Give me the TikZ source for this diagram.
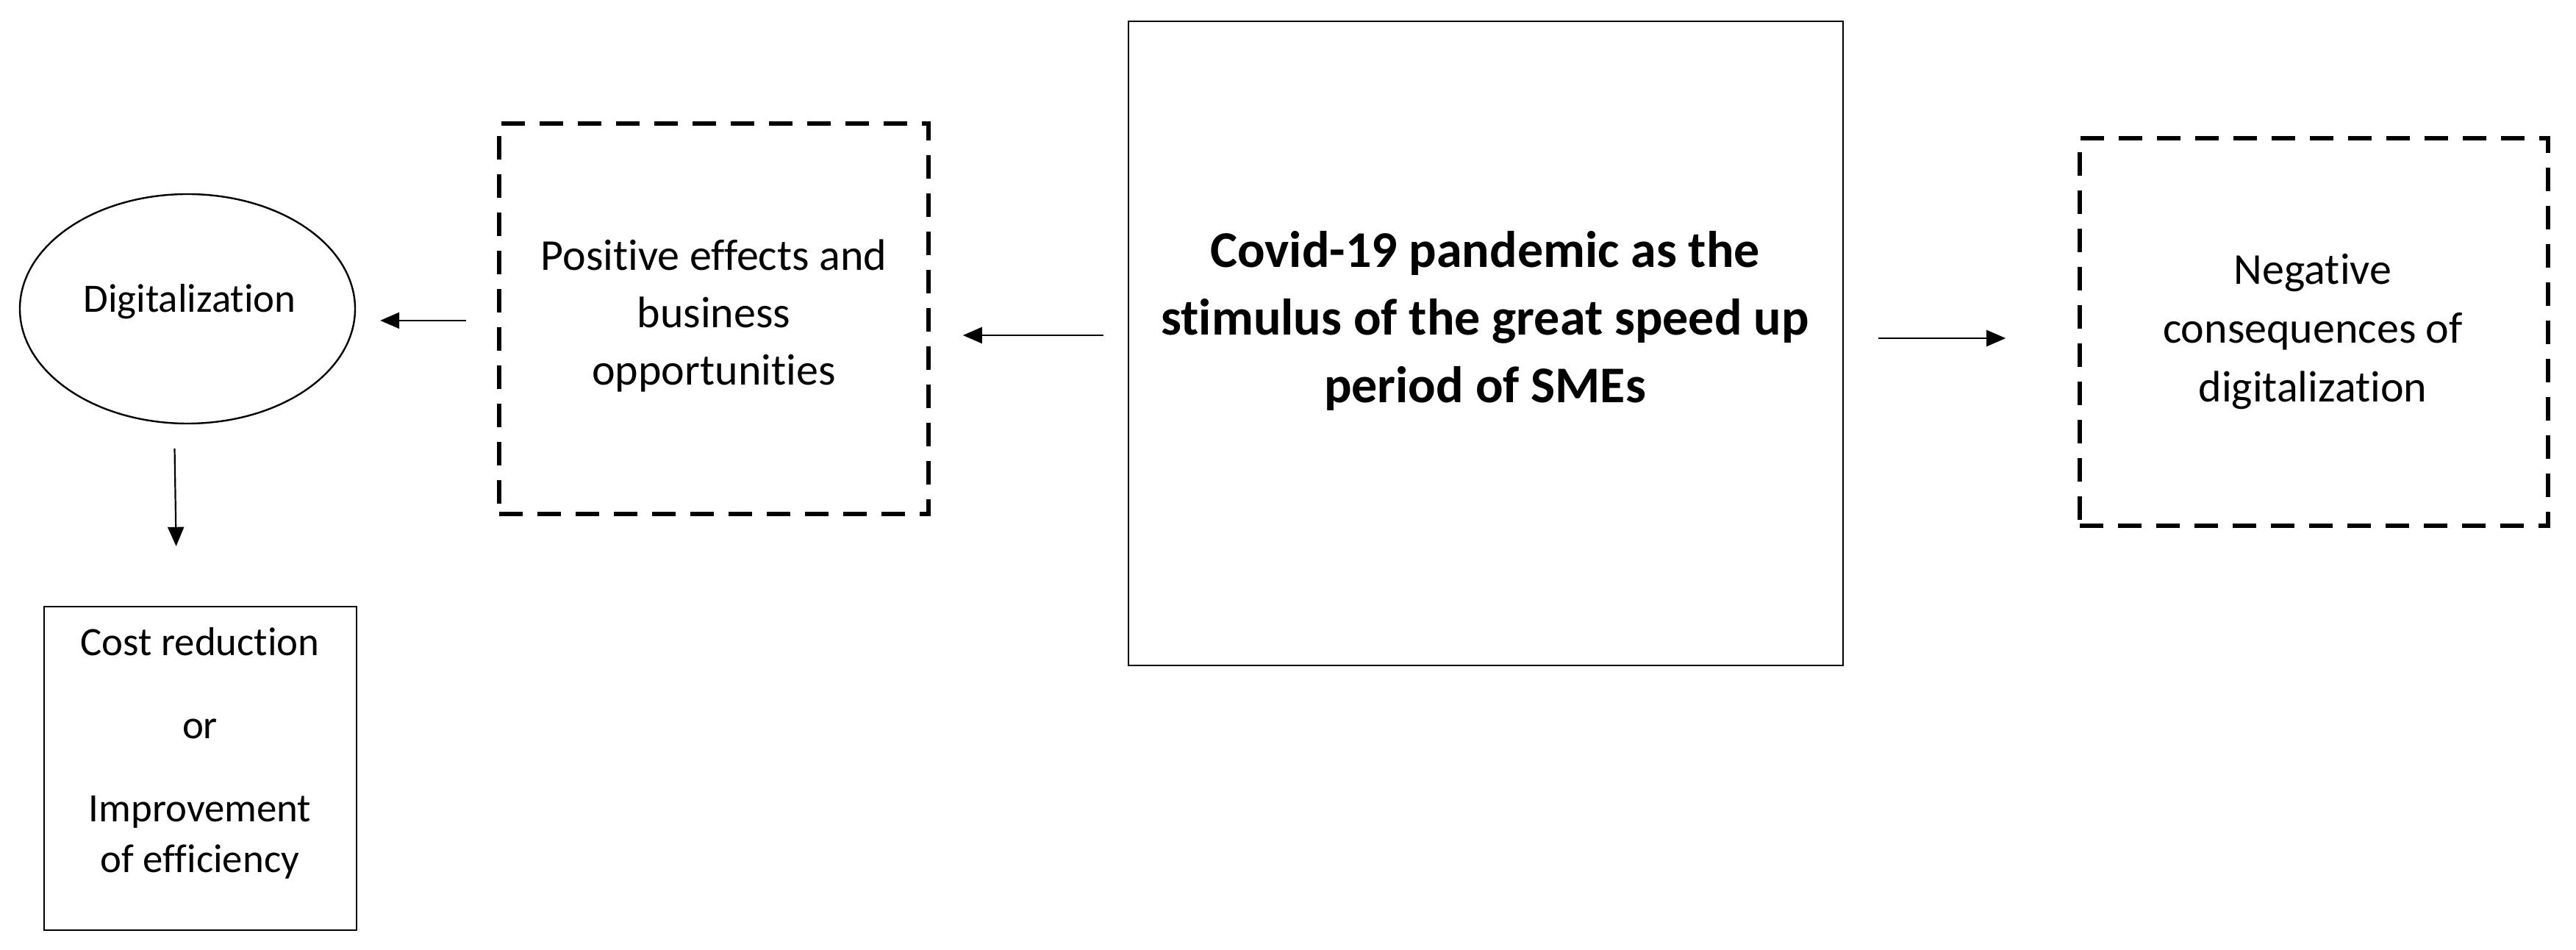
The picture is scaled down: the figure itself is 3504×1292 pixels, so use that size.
\documentclass[tikz,border=0pt]{standalone}
\usepackage{fontspec}
\setmainfont[RawFeature={-liga;-clig;-dlig;-calt}]{Carlito}
\usetikzlibrary{arrows.meta,shapes.geometric}
\begin{document}
\begin{tikzpicture}[x=0.25pt,y=-0.25pt,
  solidbox/.style={draw, line width=0.6pt, rectangle, inner sep=0pt},
  dashbox/.style={draw, line width=1.4pt, dash pattern=on 8pt off 5pt, rectangle, inner sep=0pt},
  txt/.style={align=center, inner sep=0pt},
  arr/.style={line width=0.55pt, -{Triangle[length=6.5pt,width=5.5pt]}}]
\useasboundingbox (0,0) rectangle (3504,1292);
\fill[white] (0,0) rectangle (3504,1292);

% shapes
\node[draw, line width=0.6pt, ellipse, inner sep=0pt, minimum width=114pt, minimum height=78pt] (dig) at (255,420) {};
\node[solidbox, minimum width=106.25pt, minimum height=110pt] (cost) at (272.5,1045) {};
\node[dashbox, minimum width=146pt, minimum height=132.75pt] (pos) at (971,433.5) {};
\node[solidbox, minimum width=243pt, minimum height=219pt] (cov) at (2021,467) {};
\node[dashbox, minimum width=159.25pt, minimum height=131.75pt] (neg) at (3147.5,451.5) {};

% texts
\node[txt, font=\fontsize{13.7}{17}\selectfont] (digT) at (258,410) {Digitalization};
\node[txt, font=\fontsize{13.7}{17.25}\selectfont] (costT) at (272,1024) {Cost reduction\\[11pt]or\\[11pt]Improvement\\of efficiency};
\node[txt, font=\fontsize{15}{19.5}\selectfont] (posT) at (971,430) {Positive effects and\\business\\opportunities};
\node[txt, font=\fontsize{17.5}{23}\bfseries\selectfont] (covT) at (2020,436) {Covid-19 pandemic as the\\stimulus of the great speed up\\period of SMEs};
\node[txt, font=\fontsize{15}{20}\selectfont] (negT) at (3146,451) {Negative\\consequences of\\digitalization};

% connectors
\coordinate (c1) at ([yshift=2.75pt]cov.west);
\draw[arr, shorten <=8.25pt, shorten >=11pt] (c1) -- (c1 -| pos.east);
\coordinate (c2) at ([yshift=-0.6pt]pos.west);
\draw[arr, shorten <=10.5pt, shorten >=8.25pt] (c2) -- (c2 -| dig.east);
\coordinate (c3) at ([yshift=1.75pt]cov.east);
\draw[arr, shorten <=11.75pt, shorten >=24.5pt] (c3) -- (c3 -| neg.west);
\draw[arr, shorten <=8.25pt, shorten >=20.25pt] ([xshift=-4.5pt]dig.south) -- ([xshift=-7.9pt]cost.north);
\end{tikzpicture}
\end{document}
